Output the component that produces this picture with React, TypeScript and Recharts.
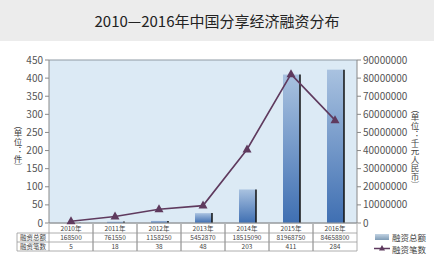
import React from 'react';
import { ComposedChart, Bar, Line, XAxis, YAxis, CartesianGrid } from 'recharts';

const years = ['2010年', '2011年', '2012年', '2013年', '2014年', '2015年', '2016年'];
const amounts = [168500, 761550, 1158250, 5452870, 18515090, 81968750, 84658800];
const counts = [5, 18, 38, 48, 203, 411, 284];
const leftTicks = [0, 50, 100, 150, 200, 250, 300, 350, 400, 450];
const rightTicks = [0, 10000000, 20000000, 30000000, 40000000, 50000000, 60000000, 70000000, 80000000, 90000000];
const titleText = '2010—2016年中国分享经济融资分布';
const amountName = '融资总额';
const countName = '融资笔数';
const leftUnit = '（单位：件）';
const rightUnit = '（单位：千元人民币）';

const data = years.map((y, i) => ({ year: y, amount: amounts[i], count: counts[i] }));

const FONT = '"Noto Sans CJK SC", "Noto Sans", sans-serif';
const LINE_COLOR = '#5f3a5e';
const TABLE_LINE = '#9a9a9a';

const BarShape = (props: any) => {
  const { x, y, width, height } = props;
  if (!height || height <= 0) return null;
  return (
    <g>
      <rect x={x} y={y} width={width} height={height} fill="url(#barGrad)" />
      <line x1={x + width} y1={y} x2={x + width} y2={y + height} stroke="#111" strokeWidth={1.5} />
    </g>
  );
};

const TriDot = (props: any) => {
  const { cx, cy } = props;
  if (cx == null || cy == null) return null;
  return <path d={`M${cx},${cy - 5} L${cx + 4.5},${cy + 3} L${cx - 4.5},${cy + 3} Z`} fill={LINE_COLOR} />;
};

const TableTick = (props: any) => {
  const { x, y, payload, width, index } = props;
  const i = payload && payload.index != null ? payload.index : index;
  const slot = width / years.length;
  const rowH = 9;
  const top = y - 1;
  const l = x - slot / 2;
  const r = x + slot / 2;
  const txt = { fontSize: 6.5, fill: '#444', fontFamily: FONT, textAnchor: 'middle' as const };
  return (
    <g>
      <line x1={l} y1={top + rowH} x2={r} y2={top + rowH} stroke={TABLE_LINE} strokeWidth={0.8} />
      <line x1={l} y1={top + rowH * 2} x2={r} y2={top + rowH * 2} stroke={TABLE_LINE} strokeWidth={0.8} />
      <line x1={l} y1={top + rowH * 3} x2={r} y2={top + rowH * 3} stroke={TABLE_LINE} strokeWidth={0.8} />
      <line x1={r} y1={top} x2={r} y2={top + rowH * 3} stroke={TABLE_LINE} strokeWidth={0.8} />
      <line x1={l} y1={top} x2={l} y2={top + rowH * 3} stroke={TABLE_LINE} strokeWidth={0.8} />
      <text x={x} y={top + 7} {...txt}>{years[i]}</text>
      <text x={x} y={top + rowH + 7} {...txt}>{amounts[i]}</text>
      <text x={x} y={top + rowH * 2 + 7} {...txt}>{counts[i]}</text>
      {i === 0 && (
        <g>
          <line x1={l - 32} y1={top + rowH} x2={l} y2={top + rowH} stroke={TABLE_LINE} strokeWidth={0.8} />
          <line x1={l - 32} y1={top + rowH * 2} x2={l} y2={top + rowH * 2} stroke={TABLE_LINE} strokeWidth={0.8} />
          <line x1={l - 32} y1={top + rowH * 3} x2={l} y2={top + rowH * 3} stroke={TABLE_LINE} strokeWidth={0.8} />
          <line x1={l - 32} y1={top + rowH} x2={l - 32} y2={top + rowH * 3} stroke={TABLE_LINE} strokeWidth={0.8} />
          <text x={l - 16} y={top + rowH + 7} {...txt}>{amountName}</text>
          <text x={l - 16} y={top + rowH * 2 + 7} {...txt}>{countName}</text>
        </g>
      )}
    </g>
  );
};

const VerticalLabel = (text: string, dx: number) => (props: any) => {
  const { viewBox } = props;
  const fs = 8.5;
  const len = Array.from(text).length * fs * 0.92;
  const cx = viewBox.x + dx;
  const start = viewBox.y + viewBox.height / 2 - len / 2 + 2;
  return (
    <text
      x={cx}
      y={start}
      textAnchor="start"
      style={{ writingMode: 'vertical-rl' as any, fontSize: fs, fill: '#444', fontFamily: FONT }}
    >
      {text}
    </text>
  );
};

const LegendBox = () => (
  <svg width={60} height={26} style={{ display: 'block', overflow: 'visible' }}>
    <defs>
      <linearGradient id="legGrad" x1="0" y1="0" x2="0" y2="1">
        <stop offset="0%" stopColor="#c2d3e3" />
        <stop offset="100%" stopColor="#7e9bb5" />
      </linearGradient>
    </defs>
    <rect x={1} y={3} width={14} height={6} fill="url(#legGrad)" />
    <text x={18} y={9.5} style={{ fontSize: 8.5, fill: '#444', fontFamily: FONT }}>{amountName}</text>
    <line x1={0} y1={17.5} x2={16} y2={17.5} stroke={LINE_COLOR} strokeWidth={1.5} />
    <path d="M8,14 L11,19.5 L5,19.5 Z" fill={LINE_COLOR} />
    <text x={18} y={21.5} style={{ fontSize: 8.5, fill: '#444', fontFamily: FONT }}>{countName}</text>
  </svg>
);

export default function App() {
  return (
    <div style={{ position: 'absolute', left: 0, top: 0, width: 434, height: 270, background: '#fff', overflow: 'hidden' }}>
      <div style={{ position: 'absolute', left: 0, top: 0, width: 434, height: 41, background: '#ececec' }} />
      <div
        style={{
          position: 'absolute',
          left: 0,
          top: 11,
          width: 434,
          textAlign: 'center',
          fontFamily: FONT,
          fontSize: 15,
          color: '#222',
          lineHeight: '20px',
        }}
      >
        {titleText}
      </div>
      <div style={{ position: 'absolute', left: 0, top: 0 }}>
        <ComposedChart width={434} height={270} data={data} margin={{ top: 60, right: 17, bottom: 17, left: 15 }}>
          <defs>
            <linearGradient id="barGrad" x1="0" y1="0" x2="0" y2="1">
              <stop offset="0%" stopColor="#a9c2e0" />
              <stop offset="100%" stopColor="#3f6fb2" />
            </linearGradient>
          </defs>
          <CartesianGrid vertical={false} stroke="#8f9aa4" fill="#dceaf5" strokeWidth={1} />
          <XAxis
            dataKey="year"
            xAxisId="x"
            interval={0}
            height={30}
            tickLine={false}
            tickSize={0}
            axisLine={{ stroke: TABLE_LINE }}
            tick={<TableTick />}
          />
          <YAxis
            yAxisId="left"
            orientation="left"
            width={34}
            domain={[0, 450]}
            ticks={leftTicks}
            interval={0}
            tick={{ fontSize: 10, fill: '#555', fontFamily: FONT }}
            tickSize={4}
            tickLine={{ stroke: '#888' }}
            axisLine={{ stroke: '#888' }}
            label={{ content: VerticalLabel(leftUnit, 3) as any }}
          />
          <YAxis
            yAxisId="right"
            orientation="right"
            width={60}
            domain={[0, 90000000]}
            ticks={rightTicks}
            interval={0}
            tick={{ fontSize: 10, fill: '#555', fontFamily: FONT }}
            tickSize={4}
            tickLine={{ stroke: '#888' }}
            axisLine={{ stroke: '#888' }}
            label={{ content: VerticalLabel(rightUnit, 58) as any }}
          />
          <Bar
            dataKey="amount"
            name={amountName}
            xAxisId="x"
            yAxisId="right"
            barSize={17}
            shape={<BarShape />}
            isAnimationActive={false}
          />
          <Line
            dataKey="count"
            name={countName}
            xAxisId="x"
            yAxisId="left"
            stroke={LINE_COLOR}
            strokeWidth={1.6}
            dot={<TriDot />}
            activeDot={false}
            isAnimationActive={false}
          />
        </ComposedChart>
      </div>
      <div style={{ position: 'absolute', left: 374, top: 231 }}>
        <LegendBox />
      </div>
    </div>
  );
}
